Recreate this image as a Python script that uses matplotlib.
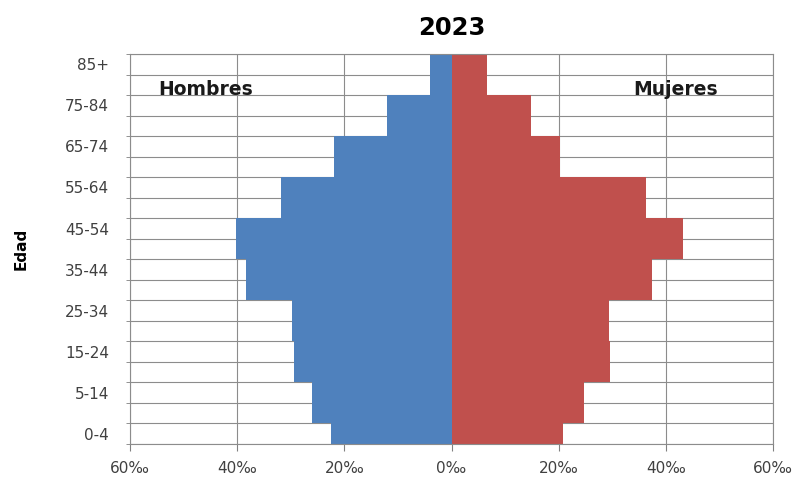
import numpy as np
import matplotlib
matplotlib.use("Agg")
import matplotlib.pyplot as plt

# 19 rows from bottom to top, ticks labelled on every other row
row_labels = ["0-4", "5-14", "15-24", "25-34", "35-44",
              "45-54", "55-64", "65-74", "75-84", "85+"]
hombres = [22.4,
           26.0, 26.0,
           29.3, 29.3,
           29.7, 29.7,
           38.3, 38.3,
           40.2, 40.2,
           31.8, 31.8,
           21.9, 21.9,
           12.0, 12.0,
           4.0, 4.0]
mujeres = [20.9,
           24.7, 24.7,
           29.5, 29.5,
           29.3, 29.3,
           37.4, 37.4,
           43.2, 43.2,
           36.3, 36.3,
           20.2, 20.2,
           14.8, 14.8,
           6.7, 6.7]
xticks = [-60, -40, -20, 0, 20, 40, 60]
xticklabels = ["60‰", "40‰", "20‰", "0‰", "20‰", "40‰", "60‰"]

plt.rcParams['font.family'] = ['DejaVu Sans']

fig = plt.figure(figsize=(7.97, 4.83), dpi=100)
ax = fig.add_axes([0.1631, 0.0807, 0.8068, 0.8073])

y = np.arange(len(hombres))
ax.barh(y, -np.array(hombres), height=1.0, color="#4F81BD", zorder=2)
ax.barh(y, mujeres, height=1.0, color="#C0504D", zorder=2)

ax.set_xlim(-60, 60)
ax.set_ylim(-0.5, len(hombres) - 0.5)

ax.set_xticks(xticks)
ax.set_xticklabels(xticklabels, fontsize=11, color="#404040")
ax.set_yticks(np.arange(0, len(hombres), 2))
ax.set_yticklabels(row_labels, fontsize=11, color="#404040")
ax.set_yticks(np.arange(-0.5, len(hombres), 1), minor=True)

ax.tick_params(axis="x", length=5, color="#808080", pad=7)
ax.tick_params(axis="y", which="major", length=0, pad=15)
ax.tick_params(axis="y", which="minor", length=3, color="#808080")

ax.grid(axis="x", which="major", color="#8c8c8c", linewidth=0.8, zorder=0)
ax.grid(axis="y", which="minor", color="#8c8c8c", linewidth=0.8, zorder=0)
ax.set_axisbelow(True)
for s in ax.spines.values():
    s.set_color("#8c8c8c")
    s.set_linewidth(0.8)

ax.set_ylabel("Edad", fontsize=11, fontweight="bold", labelpad=26)
ax.set_title("2023", fontsize=17.5, fontweight="bold", pad=14)

ax.text(0.0435, 0.908, "Hombres", transform=ax.transAxes, fontsize=13.5,
        fontweight="bold", ha="left", va="center", color="#1a1a1a")
ax.text(0.914, 0.908, "Mujeres", transform=ax.transAxes, fontsize=13.5,
        fontweight="bold", ha="right", va="center", color="#1a1a1a")

fig.savefig("out.png", dpi=100)
